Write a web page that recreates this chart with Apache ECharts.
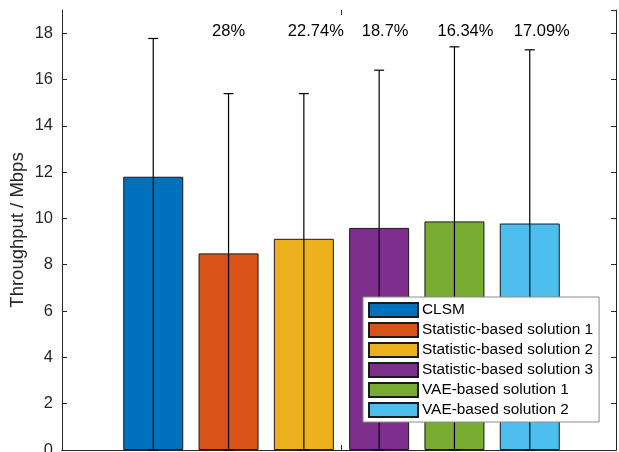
<!DOCTYPE html>
<html>
  <head>
    <meta charset="UTF-8" />
    <title>Throughput</title>
    <script src="https://cdn.jsdelivr.net/npm/echarts@6/dist/echarts.min.js"></script>
    <style>
      html, body { margin: 0; padding: 0; background: #fff; }
      #main { width: 619px; height: 452px; }
    </style>
  </head>
  <body>
    <div id="main"></div>
    <script>
      // data
      const categories = ["1"]
      const seriesNames = [
        "CLSM",
        "Statistic-based solution 1",
        "Statistic-based solution 2",
        "Statistic-based solution 3",
        "VAE-based solution 1",
        "VAE-based solution 2",
      ]
      const means = [11.8, 8.49, 9.12, 9.59, 9.87, 9.78]
      const errUpper = [17.77, 15.39, 15.39, 16.4, 17.41, 17.28]
      const errLower = [0, 0, 0, 0, 0, 0]
      const gainLabels = ["", "28%", "22.74%", "18.7%", "16.34%", "17.09%"]
      const gainLabelY = 18.06
      const yTicks = [0, 2, 4, 6, 8, 10, 12, 14, 16, 18]

      const colors = ["#0072BD", "#D95319", "#EDB120", "#7E2F8E", "#77AC30", "#4DBEEE"]
      const axisColor = "#262626"
      const font = "Liberation Sans, Arial, sans-serif"

      // pixel layout of the grouped bars
      const barW = 60
      const barStep = 75.3
      const labelShift = [0, 0, 12, 6, 11, 12]

      const chart = echarts.init(document.getElementById("main"))

      const barSeries = seriesNames.map((name, i) => ({
        name: name,
        type: "bar",
        xAxisIndex: 2,
        yAxisIndex: 2,
        data: [means[i]],
        barWidth: barW,
        barGap: "25.5%",
        itemStyle: { color: colors[i], borderColor: "#1a1a1a", borderWidth: 1 },
        emphasis: { disabled: true },
        z: 2,
      }))

      const errorSeries = {
        type: "custom",
        xAxisIndex: 2,
        yAxisIndex: 2,
        z: 3,
        silent: true,
        data: means.map((m, i) => [0, errLower[i], errUpper[i], i]),
        renderItem: function (params, api) {
          const i = api.value(3)
          const base = api.coord([0, 0])
          const x = base[0] + (i - 2.5) * barStep
          const yLo = api.coord([0, api.value(1)])[1]
          const yHi = api.coord([0, api.value(2)])[1]
          const st = { stroke: "#000", lineWidth: 1.2 }
          return {
            type: "group",
            children: [
              { type: "line", shape: { x1: x, y1: yLo, x2: x, y2: yHi }, style: st },
              { type: "line", shape: { x1: x - 5, y1: yHi, x2: x + 5, y2: yHi }, style: st },
              { type: "line", shape: { x1: x - 5, y1: yLo, x2: x + 5, y2: yLo }, style: st },
            ],
          }
        },
      }

      const labelSeries = {
        type: "custom",
        xAxisIndex: 2,
        yAxisIndex: 2,
        z: 4,
        silent: true,
        data: gainLabels.map((t, i) => [0, gainLabelY, i]),
        renderItem: function (params, api) {
          const i = api.value(2)
          const p = api.coord([0, api.value(1)])
          return {
            type: "text",
            style: {
              x: p[0] + (i - 2.5) * barStep + labelShift[i],
              y: p[1],
              text: gainLabels[i],
              fill: "#000",
              font: "16.5px " + font,
              align: "center",
              verticalAlign: "middle",
            },
          }
        },
      }

      const frameX = (pos) => ({
        type: "category",
        gridIndex: 0,
        data: categories,
        position: pos,
        axisLine: { lineStyle: { color: axisColor, width: 1 } },
        axisTick: { show: false },
        axisLabel: { show: false },
      })
      const tickX = (pos) => ({
        type: "category",
        gridIndex: 1,
        data: categories,
        position: pos,
        axisLine: { show: false },
        axisTick: { show: true, alignWithLabel: true, inside: true, length: 5, lineStyle: { color: axisColor } },
        axisLabel: { show: false },
      })

      chart.setOption({
        animation: false,
        grid: [
          { left: 62, right: 3, top: 10, bottom: 2, containLabel: false, outerBoundsMode: "none" },
          { left: 66, right: 2, top: 10, bottom: 2, containLabel: false, outerBoundsMode: "none" },
        ],
        legend: {
          orient: "vertical",
          left: 363,
          top: 297,
          padding: [5, 6, 4, 5],
          itemWidth: 49,
          itemHeight: 14,
          itemGap: 4,
          backgroundColor: "#fff",
          borderColor: "#8c8c8c",
          borderWidth: 1,
          borderRadius: 0,
          selectedMode: false,
          textStyle: { fontFamily: font, fontSize: 15.4, lineHeight: 16, color: "#000", padding: [0, 0, 0, -1] },
          data: seriesNames.map((n) => ({ name: n, icon: "rect" })),
          z: 10,
        },
        xAxis: [frameX("bottom"), frameX("top"), tickX("bottom"), tickX("top")],
        yAxis: [
          {
            type: "value",
            gridIndex: 0,
            min: 0,
            max: 19,
            interval: 2,
            name: "Throughput / Mbps",
            nameLocation: "middle",
            nameGap: 35,
            nameMoveOverlap: false,
            nameTextStyle: { fontFamily: font, fontSize: 18.5, color: axisColor },
            axisLine: { show: true, lineStyle: { color: axisColor, width: 1 } },
            axisTick: { show: true, inside: true, length: 5, lineStyle: { color: axisColor } },
            axisLabel: {
              fontFamily: font,
              fontSize: 16.5,
              color: axisColor,
              margin: 9,
              showMaxLabel: false,
              formatter: (v) => (yTicks.includes(v) ? String(v) : ""),
            },
            splitLine: { show: false },
          },
          {
            type: "value",
            gridIndex: 0,
            min: 0,
            max: 19,
            interval: 2,
            position: "right",
            axisLine: { show: true, lineStyle: { color: axisColor, width: 1 } },
            axisTick: { show: true, inside: true, length: 5, lineStyle: { color: axisColor } },
            axisLabel: { show: false },
            splitLine: { show: false },
          },
          {
            type: "value",
            gridIndex: 1,
            min: 0,
            max: 19,
            show: false,
            splitLine: { show: false },
          },
        ],
        series: [...barSeries, errorSeries, labelSeries],
      })
    </script>
  </body>
</html>
